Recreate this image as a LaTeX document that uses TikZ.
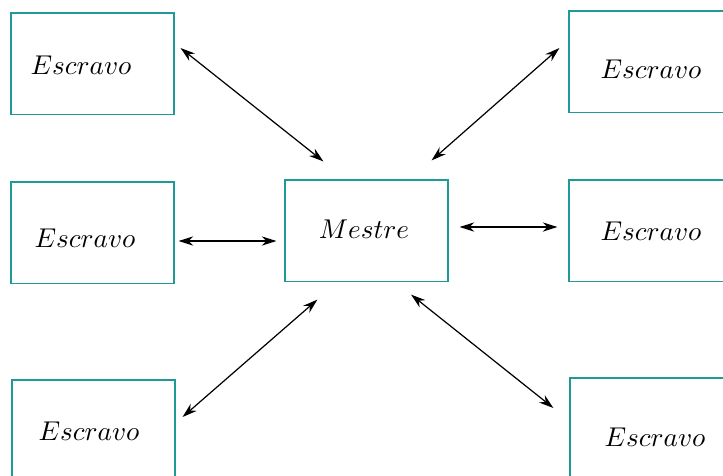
\documentclass[tikz,border=0pt]{standalone}
\usepackage{tikz}
\usepackage{amsmath}
\usetikzlibrary{arrows.meta, positioning, calc}
\definecolor{boxteal}{HTML}{1F9A98}

\begin{document}
\begin{tikzpicture}[
    x=0.368pt, y=-0.368pt,
    box/.style={rectangle, draw=boxteal, line width=0.4pt, minimum width=60pt, minimum height=37.2pt, inner sep=0pt},
    link/.style={{Stealth[length=5.4pt,width=3.4pt]}-{Stealth[length=5.4pt,width=3.4pt]}, line width=0.45pt, draw=black}
]
\useasboundingbox (0,0) rectangle (723,475);
\clip (0,0) rectangle (723,475);
\node[box, label={[shift={(-2.5,-1.5)}]center:$Mestre$}] (master) at (366.5,230.5) {};
\node[box, label={[shift={(-11.5,1.5)}]center:$Escravo$}] (slaveTL) at (92.5,63.5) {};
\node[box, label={[shift={(0.5,7.5)}]center:$Escravo$}] (slaveTR) at (650.5,61.5) {};
\node[box, label={[shift={(-7.5,5.5)}]center:$Escravo$}] (slaveML) at (92.5,232.5) {};
\node[box, label={[shift={(0.5,1)}]center:$Escravo$}] (slaveMR) at (650.5,230.5) {};
\node[box, label={[shift={(-4.5,0.5)}]center:$Escravo$}] (slaveBL) at (93.5,430.5) {};
\node[box, label={[shift={(3.5,8.5)}]center:$Escravo$}] (slaveBR) at (651.5,428.5) {};
\draw[link] ($(slaveTL.east)+(6,-15.5)$) -- ($(master.north west)+(39,-18)$);
\draw[link] ($(master.north east)+(-17,-19)$) -- ($(slaveTR.west)+(-9,-13.5)$);
\draw[link] ($(slaveML.east)+(4,8.5)$) -- ($(master.west)+(-8,10.5)$);
\draw[link] ($(master.east)+(11,-3.5)$) -- ($(slaveMR.west)+(-11,-3.5)$);
\draw[link] ($(slaveBL.east)+(7,-13.5)$) -- ($(master.south west)+(33,18)$);
\draw[link] ($(master.south)+(44.5,13)$) -- ($(slaveBR.west)+(-16,-20.5)$);
\end{tikzpicture}
\end{document}
